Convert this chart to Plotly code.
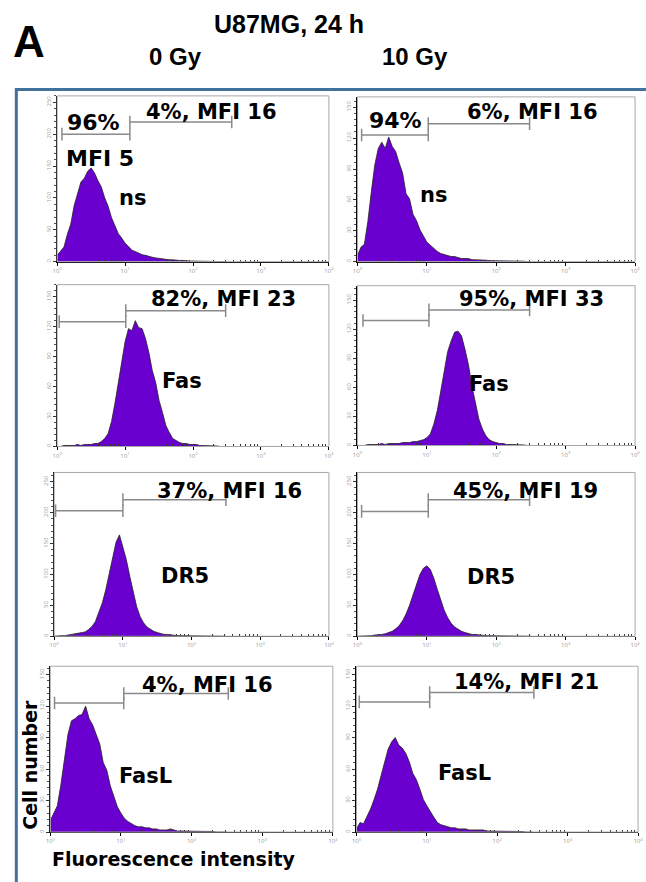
import plotly.graph_objects as go

W, H = 646, 882

# ---------------- data ----------------
# histogram bin centres, in decades of fluorescence (10**v)
log_bins = [0.00, 0.05, 0.10, 0.15, 0.20, 0.25, 0.30, 0.35, 0.40, 0.45,
            0.50, 0.55, 0.60, 0.65, 0.70, 0.75, 0.80, 0.85, 0.90, 0.95,
            1.00, 1.05, 1.10, 1.15, 1.20, 1.25, 1.30, 1.35, 1.40, 1.45,
            1.50, 1.55, 1.60, 1.65, 1.70, 1.75, 1.80, 1.85, 1.90, 1.95,
            2.00, 2.05, 2.10, 2.15, 2.20, 2.25, 2.30, 2.35, 2.40, 2.45, 2.50]

ns_0gy = [10, 16, 23, 43, 59, 88, 108, 125, 131, 142, 147, 139, 127, 117, 100, 87, 69, 57, 44, 37,
          29, 24, 18, 16, 13, 11, 10, 8, 7, 6, 5, 4, 4, 3, 3, 2, 2, 2, 1, 1,
          1, 1, 1, 1, 1, 0.5, 0.5, 0.5, 0.5, 0, 0]
ns_10gy = [6, 14, 17, 39, 68, 94, 110, 116, 110, 121, 112, 107, 96, 86, 66, 61, 46, 40, 31, 25,
           19, 16, 13, 10, 8, 7, 6, 5, 5, 4, 3, 3, 3, 2, 2, 2, 1.5, 1.5, 1, 1,
           1, 1, 1, 1, 0.5, 0.5, 0.5, 0.5, 0.5, 0, 0]
fas_0gy = [0, 0, 1, 1, 1, 1, 2, 1, 2, 2, 2, 3, 3, 5, 8, 13, 25, 43, 63, 85,
           105, 118, 116, 126, 119, 118, 108, 94, 76, 64, 46, 34, 21, 14, 8, 6, 4, 3, 3, 2,
           2, 2, 1, 1, 1, 1, 0.5, 0.5, 0, 0, 0]
fas_10gy = [0, 0, 0, 1, 1, 1, 1, 2, 1, 2, 2, 2, 2, 3, 3, 3, 4, 4, 5, 6,
            8, 12, 22, 36, 56, 77, 97, 108, 117, 118, 113, 99, 83, 61, 45, 27, 17, 10, 6, 4,
            3, 2, 2, 1, 1, 1, 1, 0.5, 0.5, 0, 0]
dr5_0gy = [0, 1, 1, 1, 2, 2, 3, 4, 5, 7, 11, 16, 24, 38, 54, 75, 102, 129, 152, 164,
           146, 124, 97, 70, 48, 32, 22, 15, 11, 8, 6, 4, 3, 3, 2, 2, 1, 1, 1, 1,
           1, 1, 0.5, 0.5, 0.5, 0.5, 0, 0, 0, 0, 0]
dr5_10gy = [0, 0, 1, 1, 1, 2, 2, 3, 4, 6, 8, 12, 17, 25, 36, 50, 66, 84, 100, 110,
            114, 108, 94, 76, 58, 42, 30, 21, 15, 11, 8, 6, 4, 3, 3, 2, 2, 1, 1, 1,
            1, 1, 0.5, 0.5, 0.5, 0, 0, 0, 0, 0, 0]
fasl_0gy = [11, 18, 25, 45, 70, 93, 106, 108, 111, 112, 120, 108, 102, 92, 84, 66, 59, 44, 33, 24,
            18, 13, 10, 8, 6, 5, 5, 4, 4, 3, 3, 2, 2, 2, 3, 2, 1, 1, 1, 1,
            1, 1, 1, 0.5, 0.5, 0.5, 0.5, 0, 0, 0, 0]
fasl_10gy = [3, 9, 8, 15, 22, 31, 41, 54, 66, 79, 86, 90, 83, 80, 75, 67, 56, 50, 41, 31,
             25, 19, 14, 9, 7, 6, 5, 4, 4, 3, 3, 3, 2, 2, 2, 2, 2, 1, 1, 1,
             1, 1, 1, 1, 1, 0.5, 0.5, 0.5, 0, 0, 0]

series = [ns_0gy, ns_10gy, fas_0gy, fas_10gy, dr5_0gy, dr5_10gy, fasl_0gy, fasl_10gy]
markers = ["ns", "ns", "Fas", "Fas", "DR5", "DR5", "FasL", "FasL"]
gate_labels = ["4%, MFI 16", "6%, MFI 16", "82%, MFI 23", "95%, MFI 33",
               "37%, MFI 16", "45%, MFI 19", "4%, MFI 16", "14%, MFI 21"]

# gate boundaries (decades) and gate heights (cell number)
gate_start = [0.07, 0.06, 0.03, 0.08, 0.02, 0.06, 0.06, 0.04]
gate_split = [1.07, 1.02, 1.01, 1.03, 1.00, 1.02, 1.04, 1.04]
gate_end = [2.57, 2.48, 2.48, 2.48, 2.50, 2.48, 2.52, 2.52]
gate_left_y = [200, 123, 125, 129, 203, 202, 123, 124]
gate_right_y = [219, 134, 136, 140, 221, 221, 132, 133]

y_max = [260, 160, 162, 165, 265, 265, 158, 158]
y_dtick = [50, 30, 30, 30, 50, 50, 30, 30]

x_tickvals = [1, 10, 100, 1000, 10000]
x_ticktext = ["10<sup>0</sup>", "10<sup>1</sup>", "10<sup>2</sup>", "10<sup>3</sup>", "10<sup>4</sup>"]

# ---------------- layout helpers ----------------
# panel boxes in pixels: (left, right, top, bottom)
boxes = [(53, 329, 96, 262), (358, 640, 97, 262),
         (53, 329, 285, 447), (358, 640, 286, 446),
         (50, 329, 473, 637), (358, 640, 473, 637),
         (46, 333, 667, 833), (357, 643, 667, 833)]

# label positions in pixels (centre)
gate_label_pos = [(210, 112), (536, 112), (222, 299), (535, 299),
                  (228, 492), (529, 492), (206, 686), (530, 683)]
marker_pos = [(130, 198), (435, 195), (180, 381), (492, 384),
              (183, 577), (494, 578), (143, 777), (467, 774)]

PURPLE = "#6a00d0"
GATE = "#8a8a8a"
TXT = dict(family="DejaVu Sans", color="black", weight="bold")

fig = go.Figure()
layout = dict(width=W, height=H, margin=dict(l=0, r=0, t=0, b=0),
              paper_bgcolor="white", plot_bgcolor="white", showlegend=False)

minor_x = [m * d for d in (1, 10, 100, 1000) for m in range(2, 10)]

shapes = []
annotations = []


def px(x, y):
    return x / W, 1 - y / H


for i, vals in enumerate(series):
    n = i + 1
    xa = "x" if n == 1 else f"x{n}"
    ya = "y" if n == 1 else f"y{n}"
    l, r, t, b = boxes[i]
    layout[f"xaxis{'' if n == 1 else n}"] = dict(
        type="log", range=[0, 4], domain=[l / W, r / W], anchor=ya,
        showline=True, linecolor="black", linewidth=1, mirror=False,
        showgrid=False, zeroline=False,
        tickvals=x_tickvals, ticktext=x_ticktext, ticks="outside", ticklen=3,
        tickcolor="black", tickfont=dict(size=6, color="#9a9a9a"),
        minor=dict(tickvals=minor_x, ticks="inside", ticklen=2, tickcolor="#333"),
        fixedrange=True)
    layout[f"yaxis{'' if n == 1 else n}"] = dict(
        range=[0, y_max[i]], domain=[1 - b / H, 1 - t / H], anchor=xa,
        showline=True, linecolor="black", linewidth=1,
        showgrid=False, zeroline=False, dtick=y_dtick[i], tick0=0,
        ticks="outside", ticklen=3, tickcolor="#333", tickangle=-90,
        tickfont=dict(size=6, color="#9a9a9a"),
        minor=dict(dtick=y_dtick[i] / 5, ticks="outside", ticklen=2, tickcolor="#555"),
        fixedrange=True)

    fig.add_trace(go.Scatter(
        x=[10 ** v for v in log_bins], y=vals, xaxis=xa, yaxis=ya,
        mode="lines", line=dict(color="#222", width=0.8, shape="linear"),
        fill="tozeroy", fillcolor=PURPLE, hoverinfo="skip"))

    # gates
    for (a, c, yv) in ((gate_start[i], gate_split[i], gate_left_y[i]),
                       (gate_split[i], gate_end[i], gate_right_y[i])):
        fig.add_trace(go.Scatter(
            x=[10 ** a, 10 ** c], y=[yv, yv], xaxis=xa, yaxis=ya,
            mode="lines+markers", line=dict(color=GATE, width=1.5),
            marker=dict(symbol="line-ns", size=9, line=dict(width=1.5, color=GATE)),
            hoverinfo="skip"))

    # light grey frame
    shapes.append(dict(type="rect", xref=f"{xa} domain", yref=f"{ya} domain",
                       x0=0, x1=1, y0=0, y1=1, line=dict(color="#a8a8a8", width=1)))

    gx, gy = px(*gate_label_pos[i])
    annotations.append(dict(text=gate_labels[i], x=gx, y=gy, xref="paper", yref="paper",
                            showarrow=False, xanchor="center", yanchor="middle",
                            font=dict(size=21, **TXT)))
    mx, my = px(*marker_pos[i])
    annotations.append(dict(text=markers[i], x=mx, y=my, xref="paper", yref="paper",
                            showarrow=False, xanchor="center", yanchor="middle",
                            font=dict(size=21, **TXT)))

# extra labels in the ns panels
for text, (cx, cy) in (("96%", (90, 123)), ("MFI 5", (97, 159)), ("94%", (397, 121))):
    x, y = px(cx, cy)
    annotations.append(dict(text=text, x=x, y=y, xref="paper", yref="paper",
                            showarrow=False, xanchor="center", yanchor="middle",
                            font=dict(size=22, **TXT)))

# header
HDR = dict(family="Liberation Sans", color="black", weight="bold")
for text, (cx, cy), size in (("A", (24, 42), 44), ("U87MG, 24 h", (288, 24), 25),
                              ("0 Gy", (173, 57), 24), ("10 Gy", (416, 57), 24)):
    x, y = px(cx, cy)
    annotations.append(dict(text=text, x=x, y=y, xref="paper", yref="paper",
                            showarrow=False, xanchor="center", yanchor="middle",
                            font=dict(size=size, **HDR)))

# axis titles
x, y = px(172, 860)
annotations.append(dict(text="Fluorescence intensity", x=x, y=y, xref="paper", yref="paper",
                        showarrow=False, xanchor="center", yanchor="middle",
                        font=dict(size=19, **TXT)))
x, y = px(26, 766)
annotations.append(dict(text="Cell number", x=x, y=y, xref="paper", yref="paper",
                        showarrow=False, xanchor="center", yanchor="middle", textangle=-90,
                        font=dict(size=19, **TXT)))

# blue outer frame (runs off the right and bottom edges)
shapes.append(dict(type="rect", xref="paper", yref="paper",
                   x0=11.5 / W, x1=1.05, y0=-0.05, y1=1 - 89.5 / H,
                   line=dict(color="#41719C", width=3), layer="below"))

layout["shapes"] = shapes
layout["annotations"] = annotations
fig.update_layout(**layout)

fig.write_html("out.html", config={"displayModeBar": False, "staticPlot": True},
               post_script="document.body.style.margin='0';document.body.style.overflow='hidden';")
